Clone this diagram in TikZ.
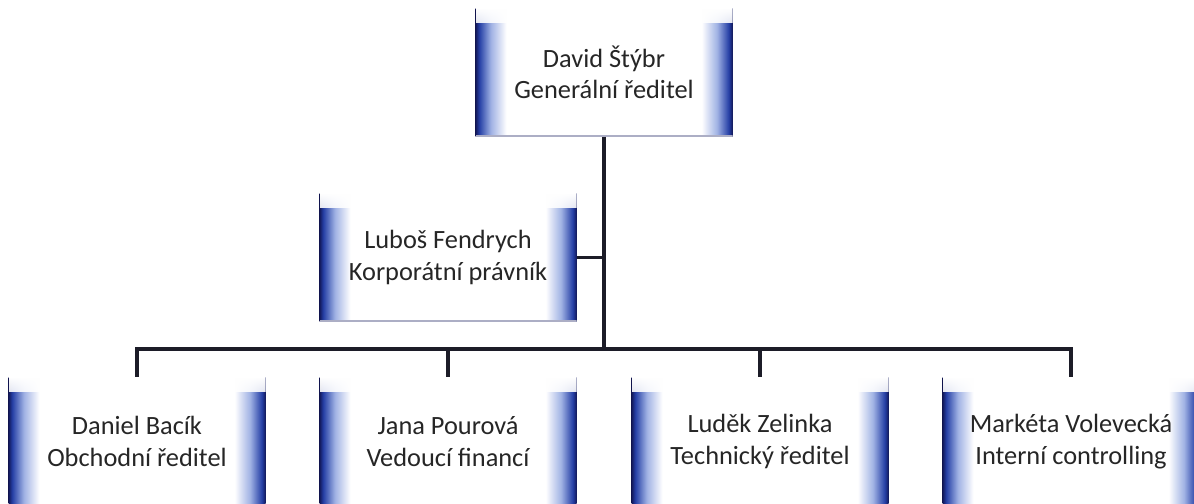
\documentclass[tikz,border=0pt]{standalone}
\usepackage{fontspec}
\setmainfont{Carlito}
\usetikzlibrary{positioning, fadings}
\definecolor{edgenavy}{RGB}{18,24,88}
\definecolor{edgeblue}{RGB}{36,62,165}
\definecolor{edgelight}{RGB}{160,178,228}
\definecolor{linkcol}{RGB}{28,28,40}
\pgfdeclarehorizontalshading{boxedge}{100bp}{color(0bp)=(edgenavy); color(25bp)=(edgenavy); color(25.7bp)=(edgeblue); color(28bp)=(edgelight); color(31bp)=(white); color(69bp)=(white); color(72bp)=(edgelight); color(74.3bp)=(edgeblue); color(75bp)=(edgenavy); color(100bp)=(edgenavy)}

\begin{document}
\begin{tikzpicture}[
    person/.style={shading=boxedge, minimum width=5.14cm, minimum height=2.56cm,
      align=center, text=black!85, font=\fontsize{15}{18}\selectfont,
      path picture={
        \fill [white, path fading=south] (path picture bounding box.north west)
          rectangle ([yshift=-0.3cm]path picture bounding box.north east);
        \draw [edgenavy!35, line width=1.4pt]
          (path picture bounding box.south west) -- (path picture bounding box.south east);}},
    link/.style={draw=linkcol, line width=2.2pt}
  ]
  \useasboundingbox (0, 0) rectangle (23.88, 10.08);

  \node [person] (director) at (12.08, 8.63) {David Štýbr\\Generální ředitel};
  \node [person] (lawyer) at (8.96, 4.93) {Luboš Fendrych\\Korporátní právník};

  \node [person, anchor=north] (sales) at (2.74, 2.54) {Daniel Bacík\\Obchodní ředitel};
  \node [person, anchor=north] (finance) at (8.96, 2.54) {Jana Pourová\\Vedoucí financí};
  \node [person, anchor=north] (tech) at (15.20, 2.54) {Luděk Zelinka\\Technický ředitel};
  \node [person, anchor=north] (control) at (21.42, 2.54) {Markéta Volevecká\\Interní controlling};

  \coordinate (hub) at (12.08, 3.10);

  \draw [link] (director) -- (hub);
  \draw [link] (lawyer) -- (lawyer -| hub);
  \draw [link] (sales.north) |- (hub) -| (control.north);
  \draw [link] (finance.north) -- (finance.north |- hub);
  \draw [link] (tech.north) -- (tech.north |- hub);
\end{tikzpicture}
\end{document}
